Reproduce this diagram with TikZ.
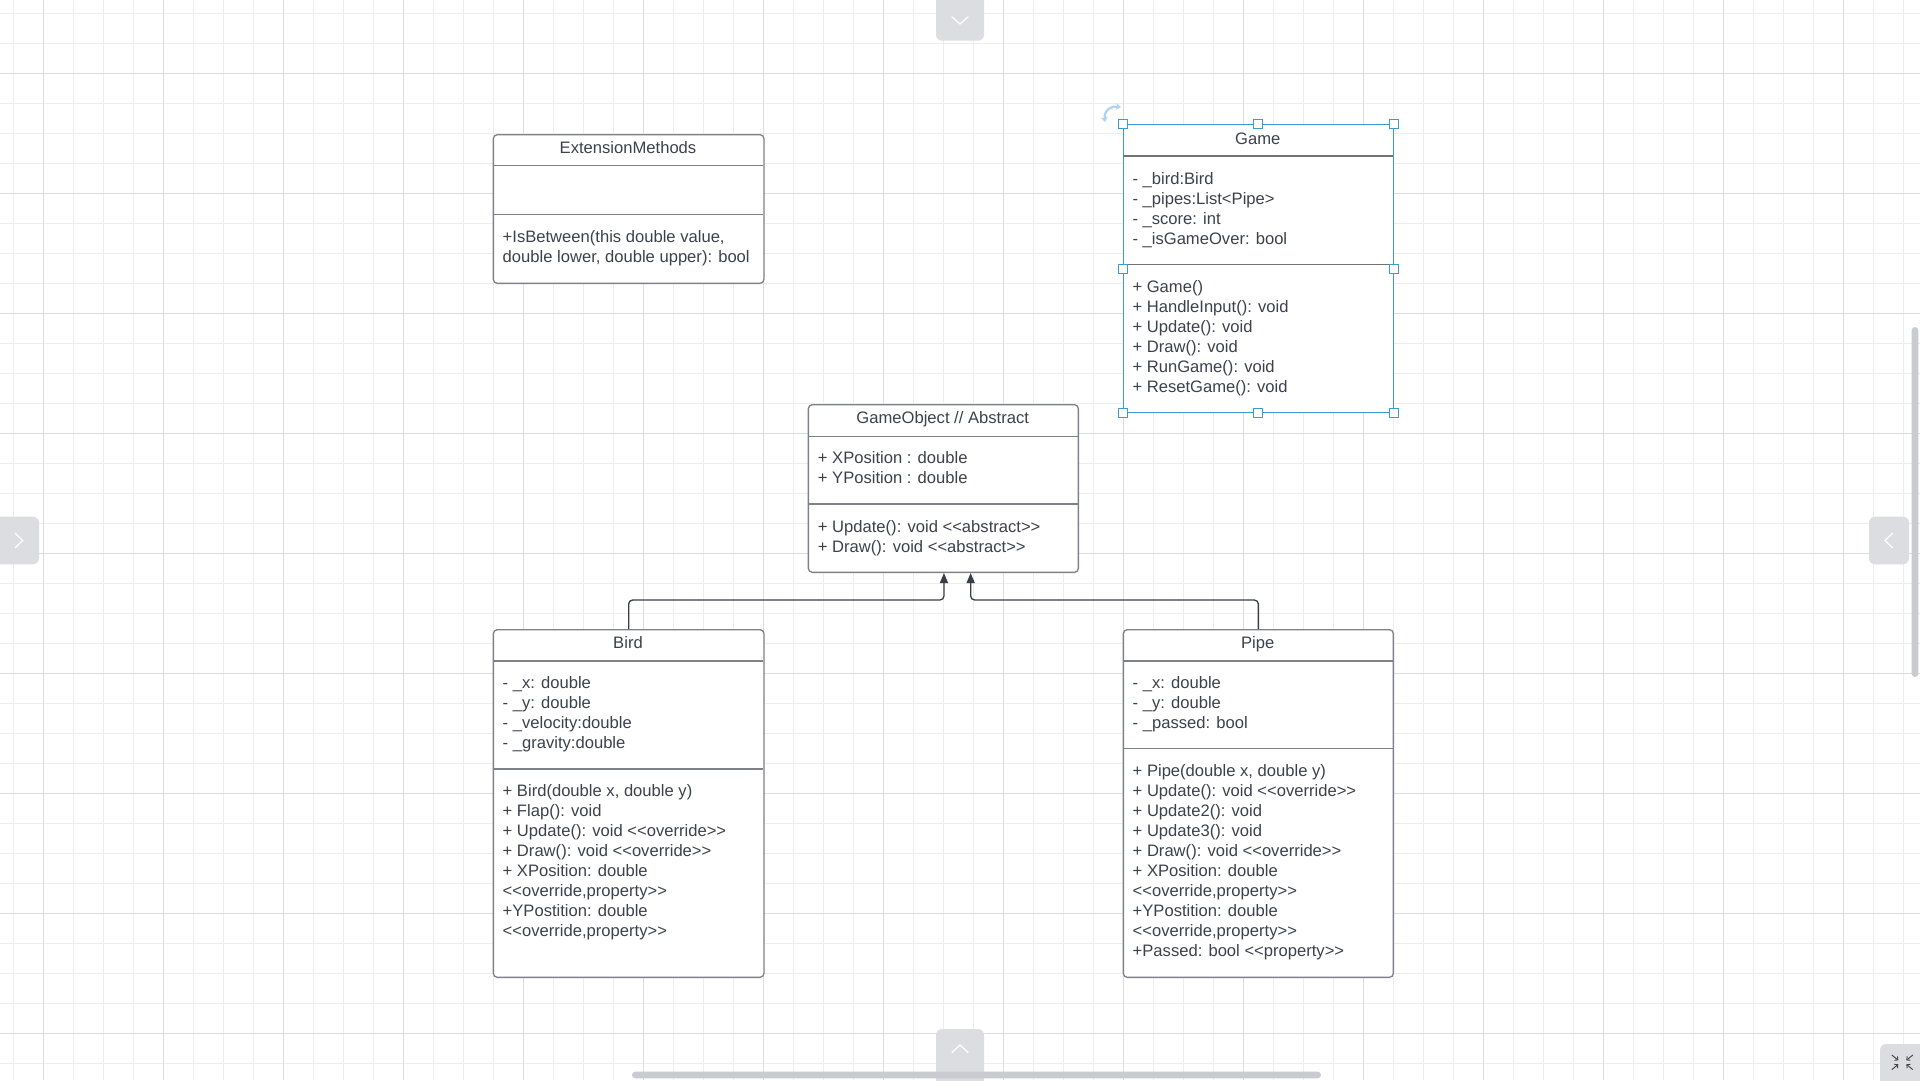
\documentclass[tikz,border=0pt]{standalone}
\usepackage{fontspec}
\setmainfont{Liberation Sans}
\usetikzlibrary{arrows.meta}

\definecolor{gridminor}{HTML}{EDEDEF}
\definecolor{gridmajor}{HTML}{DCDCDF}
\definecolor{boxline}{HTML}{7E8188}
\definecolor{inkgray}{HTML}{3C424B}
\definecolor{wireink}{HTML}{3A3F47}
\definecolor{selblue}{HTML}{3D9BD3}
\definecolor{rotblue}{HTML}{AFD3F0}
\definecolor{tabgray}{HTML}{DCDDE0}
\definecolor{barmid}{HTML}{C9CBD0}

% stereotype brackets, kept as two separate characters
\newcommand\stl{<\kern0pt<}
\newcommand\str{>\kern0pt>}

\tikzset{
  umlbox/.style={draw=boxline, line width=1.3pt, rounded corners=4pt, fill=white,
    anchor=north west, inner sep=0pt, minimum width=270.6pt},
  selbox/.style={draw=selblue, line width=1.4pt, fill=white,
    anchor=north west, inner sep=0pt, minimum width=270pt},
  divider/.style={draw=boxline, line width=1.3pt},
  seldivider/.style={draw=black!55, line width=1.2pt},
  title/.style={anchor=base, inner sep=0pt, text=inkgray},
  member/.style={anchor=base west, inner sep=0pt, text=inkgray},
  inherit/.style={draw=wireink, line width=1.3pt, rounded corners=4pt,
    -{Triangle[length=10pt,width=8pt]}},
  handle/.style={draw=selblue, fill=white, line width=1.1pt, minimum size=9pt,
    inner sep=0pt},
  chevron/.style={draw=white, line width=1.2pt},
}

% member lines: prefix, left x, first baseline, list of lines (20pt apart)
\newcommand\memberlines[4]{%
  \foreach \mline [count=\i from 0] in {#4}
    \node[member] (#1-\i) at (#2,#3+20*\i) {\mline};%
}

\begin{document}
\begin{tikzpicture}[x=1pt,y=-1pt,
  every node/.append style={font=\fontsize{16.6pt}{20pt}\selectfont}]
\useasboundingbox (0,0) rectangle (1920,1080);
\clip (0,0) rectangle (1920,1080);
\fill[white] (0,0) rectangle (1920,1080);

% canvas grid
\foreach \k in {0,...,64}
  \draw[gridminor, line width=1pt] (13.33+30*\k,0) -- (13.33+30*\k,1080);
\foreach \k in {0,...,36}
  \draw[gridminor, line width=1pt] (0,13.33+30*\k) -- (1920,13.33+30*\k);
\foreach \k in {0,...,16}
  \draw[gridmajor, line width=1pt] (43.33+120*\k,0) -- (43.33+120*\k,1080);
\foreach \k in {-1,...,9}
  \draw[gridmajor, line width=1pt] (0,73.33+120*\k) -- (1920,73.33+120*\k);

% ---------- ExtensionMethods ----------
\node[umlbox, minimum height=148.7pt] (ext) at (492.7,134) {};
\draw[divider] (492.7,165.7) -- (763.3,165.7);
\draw[divider] (492.7,214.3) -- (763.3,214.3);
\node[title] (ext-t) at (628,153.5) {ExtensionMethods};
\memberlines{ext-m}{502.5}{242.7}{{+IsBetween(this double value,},{double lower, double upper): bool}}

% ---------- Game (selected) ----------
\node[selbox, minimum height=288pt] (game) at (1122.7,124) {};
\draw[seldivider] (1122.7,156) -- (1392.7,156);
\draw[seldivider] (1122.7,264.3) -- (1392.7,264.3);
\node[title] (game-t) at (1257.7,144) {Game};
\memberlines{game-a}{1132.3}{184.5}{{- \_bird:Bird},{- \_pipes:List<Pipe>},{- \_score: int},{- \_isGameOver: bool}}
\memberlines{game-m}{1132.3}{292.7}{{+ Game()},{+ HandleInput(): void},{+ Update(): void},{+ Draw(): void},{+ RunGame(): void},{+ ResetGame(): void}}

% selection handles
\node[handle] (h-nw) at (game.north west) {};
\node[handle] (h-n)  at (game.north) {};
\node[handle] (h-ne) at (game.north east) {};
\node[handle] (h-w)  at (game.west) {};
\node[handle] (h-e)  at (game.east) {};
\node[handle] (h-sw) at (game.south west) {};
\node[handle] (h-s)  at (game.south) {};
\node[handle] (h-se) at (game.south east) {};
% rotate grip
\draw[rotblue, line width=2.2pt, {Stealth[length=5pt,width=7pt]}-{Stealth[length=5pt,width=7pt]}]
  (1105,122) .. controls (1103.5,112) and (1109,106) .. (1121,107);

% ---------- GameObject ----------
\node[umlbox, minimum height=167.7pt, minimum width=270pt] (gobj) at (807.7,404) {};
\draw[divider] (807.7,436.7) -- (1077.7,436.7);
\draw[divider] (807.7,504) -- (1077.7,504);
\node[title] (gobj-t) at (942.7,423.5) {GameObject // Abstract};
\memberlines{gobj-a}{817.7}{463.5}{{+ XPosition : double},{+ YPosition : double}}
\memberlines{gobj-m}{817.7}{532.2}{{+ Update(): void \stl abstract\str},{+ Draw(): void \stl abstract\str}}

% ---------- Bird ----------
\node[umlbox, minimum height=347.7pt] (bird) at (492.7,629) {};
\draw[divider] (492.7,661) -- (763.3,661);
\draw[divider] (492.7,769) -- (763.3,769);
\node[title] (bird-t) at (628,648.5) {Bird};
\memberlines{bird-a}{502.5}{688.5}{{- \_x: double},{- \_y: double},{- \_velocity:double},{- \_gravity:double}}
\memberlines{bird-m}{502.5}{796.7}{{+ Bird(double x, double y)},{+ Flap(): void},{+ Update(): void \stl override\str},{+ Draw(): void \stl override\str},{+ XPosition: double},{\stl override,property\str},{+YPostition: double},{\stl override,property\str}}

% ---------- Pipe ----------
\node[umlbox, minimum height=347.7pt, minimum width=270pt] (pipe) at (1122.7,629) {};
\draw[divider] (1122.7,661) -- (1392.7,661);
\draw[divider] (1122.7,748.3) -- (1392.7,748.3);
\node[title] (pipe-t) at (1257.7,648.5) {Pipe};
\memberlines{pipe-a}{1132.5}{688.5}{{- \_x: double},{- \_y: double},{- \_passed: bool}}
\memberlines{pipe-m}{1132.5}{776.7}{{+ Pipe(double x, double y)},{+ Update(): void \stl override\str},{+ Update2(): void},{+ Update3(): void},{+ Draw(): void \stl override\str},{+ XPosition: double},{\stl override,property\str},{+YPostition: double},{\stl override,property\str},{+Passed: bool \stl property\str}}

% ---------- inheritance ----------
\draw[inherit] (bird.north) -- ++(0,-29) -| ([xshift=0.6pt]gobj.south);
\draw[inherit] (pipe.north) -- ++(0,-29) -| ([xshift=27.3pt]gobj.south);

% ---------- editor chrome ----------
\fill[tabgray, rounded corners=6pt] (936,-10) rectangle (984,40.7);
\draw[chevron] (951.7,16.7) -- (960,24) -- (968.3,16.7);
\fill[tabgray, rounded corners=6pt] (-10,516.7) rectangle (39,564.3);
\draw[chevron] (15,533) -- (22.7,540.5) -- (15,548);
\fill[tabgray, rounded corners=6pt] (1869,516.7) rectangle (1909,564.3);
\draw[chevron] (1892.7,533) -- (1885,540.5) -- (1892.7,548);
\fill[tabgray, rounded corners=6pt] (936,1029) rectangle (984,1090);
\draw[chevron] (951.7,1052.7) -- (960,1045) -- (968.3,1052.7);
\fill[barmid, rounded corners=3.3pt] (1911.7,327) rectangle (1918.3,677);
\fill[barmid, rounded corners=3.3pt] (632,1071.7) rectangle (1321,1078.3);
\fill[tabgray, rounded corners=6pt] (1880,1044) rectangle (1930,1090);
\foreach \sx/\sy in {-1/-1,1/-1,-1/1,1/1}
  \draw[black!75, line width=0.9pt, -{Straight Barb[length=2.5pt,width=5pt]}]
    (1902.3+10.5*\sx,1062.3+7.3*\sy) -- (1902.3+4*\sx,1062.3+2*\sy);
\end{tikzpicture}
\end{document}
